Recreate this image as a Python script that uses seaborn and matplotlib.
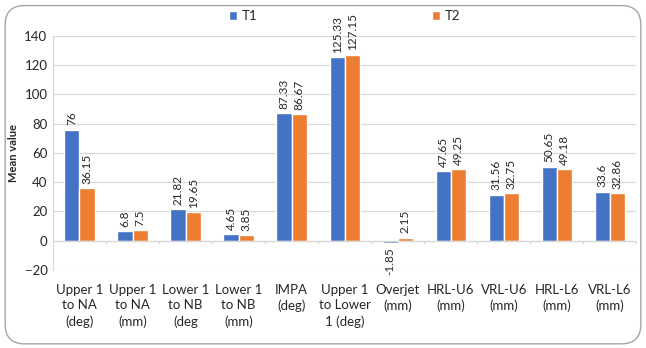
import numpy as np
import pandas as pd
import matplotlib
matplotlib.use("Agg")
import matplotlib.pyplot as plt
from matplotlib.patches import FancyBboxPatch
import seaborn as sns

categories = ["Upper 1\nto NA\n(deg)", "Upper 1\nto NA\n(mm)", "Lower 1\nto NB\n(deg", "Lower 1\nto NB\n(mm)",
              "IMPA\n(deg)", "Upper 1\nto Lower\n1 (deg)", "Overjet\n(mm)", "HRL-U6\n(mm)",
              "VRL-U6\n(mm)", "HRL-L6\n(mm)", "VRL-L6\n(mm)"]
t1 = [76, 6.8, 21.82, 4.65, 87.33, 125.33, -1.85, 47.65, 31.56, 50.65, 33.6]
t2 = [36.15, 7.5, 19.65, 3.85, 86.67, 127.15, 2.15, 49.25, 32.75, 49.18, 32.86]
t1_labels = ["76", "6.8", "21.82", "4.65", "87.33", "125.33", "-1.85", "47.65", "31.56", "50.65", "33.6"]
t2_labels = ["36.15", "7.5", "19.65", "3.85", "86.67", "127.15", "2.15", "49.25", "32.75", "49.18", "32.86"]
series = ["T1", "T2"]
yticks = [-20, 0, 20, 40, 60, 80, 100, 120, 140]

df = pd.DataFrame({
    "cat": categories * 2,
    "val": t1 + t2,
    "series": ["T1"] * len(t1) + ["T2"] * len(t2),
})

sns.set_theme(style="white")
plt.rcParams["font.family"] = ["Lato", "DejaVu Sans"]

fig = plt.figure(figsize=(6.46, 3.48), dpi=100)
ax = fig.add_axes([0.082, 0.224, 0.903, 0.673])

border = FancyBboxPatch((0.008, 0.012), 0.984, 0.972, boxstyle="round,pad=0,rounding_size=0.03",
                        transform=fig.transFigure, fill=False, edgecolor="#A6A6A6", linewidth=1.0,
                        mutation_aspect=646/348)
fig.patches.append(border)

sns.barplot(data=df, x="cat", y="val", hue="series", hue_order=series,
            palette=["#4472C4", "#ED7D31"], width=0.57, gap=0, saturation=1,
            ax=ax, legend=True)

ax.set_ylim(-20, 140)
ax.set_yticks(yticks)
ax.yaxis.grid(True, color="#D9D9D9", linewidth=0.9)
ax.set_axisbelow(True)
for s in ["top", "right", "bottom"]:
    ax.spines[s].set_visible(False)
ax.spines["left"].set_color("#D9D9D9")
ax.spines["left"].set_linewidth(0.9)
ax.axhline(0, color="#D9D9D9", linewidth=0.9, zorder=1)
n = len(categories)
for b in np.arange(n + 1) - 0.5:
    ax.plot([b, b], [0, -1.6], color="#D9D9D9", linewidth=0.9, clip_on=False, zorder=1)
ax.set_xlim(-0.5, n - 0.5)
ax.tick_params(axis="x", length=0, pad=10, labelsize=9.5, labelcolor="#262626")
ax.tick_params(axis="y", length=0, pad=4, labelsize=9.5, labelcolor="#262626")
ax.set_xlabel("")
ax.set_ylabel("Mean value", fontsize=8, fontweight="bold", color="#262626", labelpad=4)
for lab in ax.get_xticklabels():
    lab.set_linespacing(1.35)

for container, labels in zip(ax.containers, [t1_labels, t2_labels]):
    for bar, txt in zip(container, labels):
        x = bar.get_x() + bar.get_width() / 2
        h = bar.get_height()
        if h >= 0:
            ax.annotate(txt, (x, h), xytext=(0, 3), textcoords="offset points", rotation=90,
                        ha="center", va="bottom", fontsize=8.5, color="#262626")
        else:
            ax.annotate(txt, (x, h), xytext=(0, -3), textcoords="offset points", rotation=90,
                        ha="center", va="top", fontsize=8.5, color="#262626")

leg = ax.legend(loc="upper center", bbox_to_anchor=(0.5, 1.16), ncol=2, frameon=False,
                fontsize=9.5, handlelength=0.6, handleheight=0.6, handletextpad=0.3,
                columnspacing=13.3)
for t in leg.get_texts():
    t.set_color("#262626")

fig.savefig("out.png", dpi=100)
